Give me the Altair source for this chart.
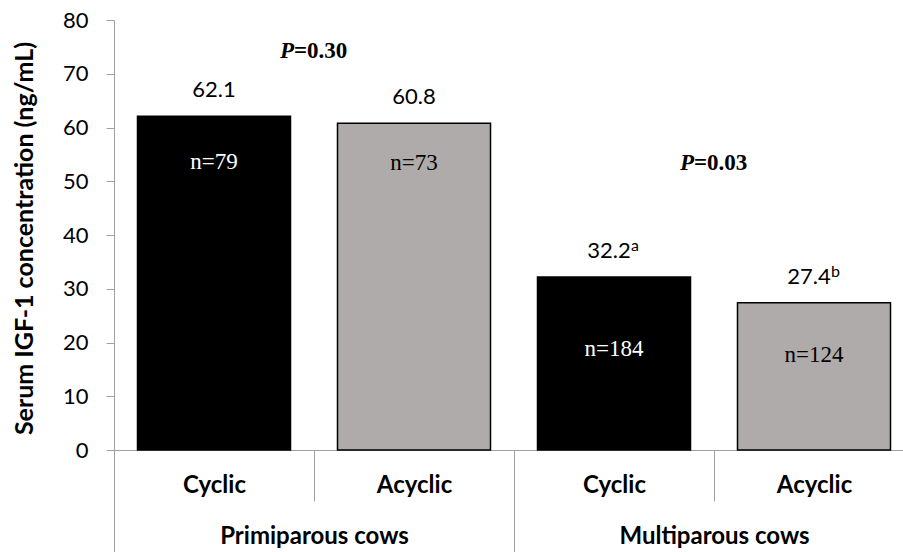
import altair as alt
import pandas as pd

# ---- data ----
parity = ["Primiparous cows", "Primiparous cows", "Multiparous cows", "Multiparous cows"]
status = ["Cyclic", "Acyclic", "Cyclic", "Acyclic"]
igf1 = [62.1, 60.8, 32.2, 27.4]
superscript = ["", "", "a", "b"]
n_labels = ["n=79", "n=73", "n=184", "n=124"]
n_label_at = [53.6, 53.4, 18.7, 17.7]

parity_groups = ["Primiparous cows", "Multiparous cows"]
p_values = ["0.30", "0.03"]
p_label_at = [72.9, 52.1]

keys = [f"{p.split()[0]} {s}" for p, s in zip(parity, status)]

df = pd.DataFrame({
    "key": keys,
    "parity": parity,
    "status": status,
    "value": igf1,
    "label": [f"{v:.1f}" for v in igf1],
    "sup": superscript,
    "n": n_labels,
    "n_at": n_label_at,
})
dfp = pd.DataFrame({"parity": parity_groups, "p": ["=" + p for p in p_values], "p_at": p_label_at})

GRAY = "#A0A0A0"
SANS = "Lato"
SERIF = "Liberation Serif"

xscale = alt.Scale(domain=keys, range=[0, 800], paddingInner=0, paddingOuter=0)
yscale = alt.Scale(domain=[0, 80])
yaxis = alt.Axis(
    values=list(range(0, 81, 10)), grid=False, tickSize=8, tickColor=GRAY, domainColor=GRAY,
    labelFont=SANS, labelFontSize=22, labelColor="black", labelPadding=18,
    title="Serum IGF-1 concentration (ng/mL)", titleFont=SANS, titleFontSize=25,
    titleFontWeight="bold", titleColor="black", titleX=-90, titleY=218, titleAngle=-90,
    titleAlign="center", titleBaseline="middle",
)

xaxis = alt.Axis(
    title=None, tickBand="extent", tickSize=51, tickColor=GRAY, domainColor=GRAY,
    labelExpr="split(datum.label, ' ')[1]", labelFont=SANS, labelFontSize=24,
    labelFontWeight="bold", labelColor="black", labelAngle=0, labelBaseline="middle",
    labelPadding=-16, labelLimit=0,
)

base = alt.Chart(df)
X = alt.X("key:N", scale=xscale, axis=xaxis, sort=keys)

bars = base.mark_bar(stroke="black", strokeWidth=1.5, width=alt.RelativeBandSize(0.765)).encode(
    x=X,
    y=alt.Y("value:Q", scale=yscale, axis=yaxis),
    color=alt.Color("status:N", scale=alt.Scale(domain=["Cyclic", "Acyclic"], range=["#000000", "#AFABAB"]), legend=None),
)

vlabels_plain = base.transform_filter("datum.sup === ''").mark_text(
    font=SANS, fontSize=22, color="black", baseline="alphabetic", dy=-19
).encode(
    x=X,
    y=alt.Y("value:Q", scale=yscale, axis=yaxis),
    text="label:N",
)

vlabels_sup = base.transform_filter("datum.sup !== ''").mark_text(
    font=SANS, fontSize=22, color="black", baseline="alphabetic", dy=-19, dx=-5
).encode(
    x=X,
    y=alt.Y("value:Q", scale=yscale, axis=yaxis),
    text="label:N",
)

sups = base.transform_filter("datum.sup !== ''").mark_text(
    font=SANS, fontSize=16, color="black", baseline="alphabetic", align="left", dy=-26, dx=17
).encode(
    x=X,
    y=alt.Y("value:Q", scale=yscale, axis=yaxis),
    text="sup:N",
)

nlabels = base.mark_text(font=SERIF, fontSize=23, baseline="middle").encode(
    x=X,
    y=alt.Y("n_at:Q", scale=yscale, axis=yaxis),
    text="n:N",
    color=alt.condition("datum.status === 'Cyclic'", alt.value("white"), alt.value("black")),
)

inner = alt.layer(bars, vlabels_plain, vlabels_sup, sups, nlabels)

pscale = alt.Scale(domain=parity_groups, range=[0, 800], paddingInner=0, paddingOuter=0)
paxis = alt.Axis(
    orient="bottom", title=None, tickBand="extent", tickSize=102, tickColor=GRAY, domain=False,
    labelFont=SANS, labelFontSize=24, labelFontWeight="bold", labelColor="black",
    labelAngle=0, labelBaseline="middle", labelPadding=-16, labelLimit=0,
)
PX = alt.X("parity:N", scale=pscale, axis=paxis, sort=parity_groups)

pbase = alt.Chart(dfp)
p_italic = pbase.mark_text(
    font=SERIF, fontSize=23, fontWeight="bold", fontStyle="italic", color="black",
    align="right", baseline="alphabetic", dx=-20
).encode(
    x=PX,
    y=alt.Y("p_at:Q", scale=yscale, axis=yaxis),
    text=alt.value("P"),
)
p_rest = pbase.mark_text(
    font=SERIF, fontSize=23, fontWeight="bold", color="black",
    align="left", baseline="alphabetic", dx=-20
).encode(
    x=PX,
    y=alt.Y("p_at:Q", scale=yscale, axis=yaxis),
    text="p:N",
)
outer_p = alt.layer(p_italic, p_rest)

chart = alt.layer(inner, outer_p).resolve_scale(x="independent").properties(
    width=789, height=430,
    padding={"left": 114, "top": 20, "right": 0, "bottom": 102},
    autosize=alt.AutoSizeParams(type="none"),
    background="white",
).configure_view(stroke=None)

chart.save("out.html", embed_options={"renderer": "svg", "actions": False})
